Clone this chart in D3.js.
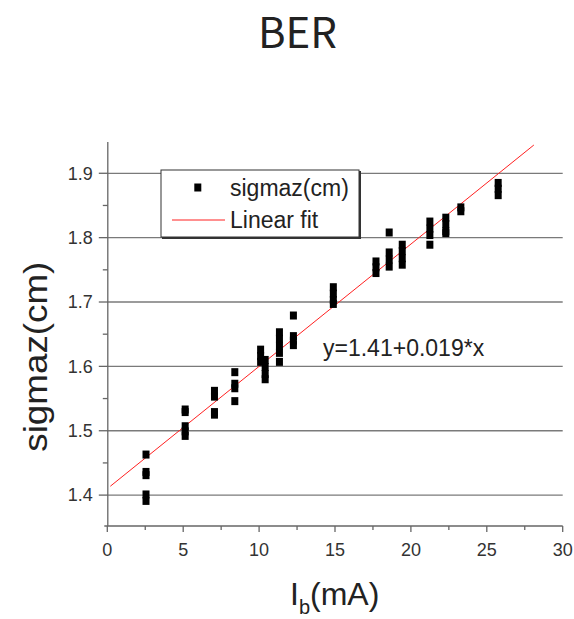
<!DOCTYPE html>
<html>
<head>
<meta charset="utf-8">
<script src="https://cdn.jsdelivr.net/npm/d3@7"></script>
<style>
  body { margin: 0; background: #fff; }
  text { font-family: "Liberation Sans", Arial, sans-serif; fill: #222; }
</style>
</head>
<body>
<script>
// beam current (mA) and bunch length readings
const ib = [
  2.55, 2.55, 2.55, 2.55, 2.55,
  5.13, 5.13, 5.13, 5.13, 5.13,
  7.06, 7.06, 7.06, 7.06,
  8.4, 8.4, 8.4, 8.4,
  10.1, 10.1, 10.1, 10.4, 10.4, 10.4, 10.4,
  11.34, 11.34, 11.34, 11.34, 11.34,
  12.26, 12.26, 12.26, 12.26,
  14.89, 14.89, 14.89, 14.89,
  17.7, 17.7, 17.7,
  18.57, 18.57, 18.57, 18.57,
  19.43, 19.43, 19.43, 19.43,
  21.25, 21.25, 21.25, 21.25,
  22.3, 22.3, 22.3, 22.3,
  23.29, 23.29,
  25.75, 25.75, 25.75
];
const sigmaz = [
  1.463, 1.436, 1.431, 1.401, 1.391,
  1.533, 1.529, 1.507, 1.499, 1.492,
  1.562, 1.553, 1.529, 1.525,
  1.591, 1.573, 1.566, 1.546,
  1.626, 1.616, 1.607, 1.610, 1.599, 1.588, 1.580,
  1.653, 1.643, 1.632, 1.621, 1.607,
  1.679, 1.647, 1.640, 1.633,
  1.723, 1.713, 1.703, 1.697,
  1.763, 1.754, 1.745,
  1.808, 1.777, 1.766, 1.755,
  1.789, 1.779, 1.768, 1.758,
  1.825, 1.814, 1.804, 1.789,
  1.831, 1.821, 1.810, 1.807,
  1.847, 1.841,
  1.885, 1.876, 1.866
];
// linear fit y = a + b*x
const fitA = 1.41, fitB = 0.019;
const fitRange = [0.2, 28.1];
const xTicks = [0, 5, 10, 15, 20, 25, 30];
const yTicks = [1.4, 1.5, 1.6, 1.7, 1.8, 1.9];

const W = 574, H = 619;
const svg = d3.select('body').append('svg')
    .attr('width', W)
    .attr('height', H);

const x = d3.scaleLinear().domain([0, 30]).range([107.3, 562.7]);
const y = d3.scaleLinear().domain([1.352, 1.9486]).range([526, 142]);

// grid lines
svg.append('g')
    .selectAll('line')
    .data(yTicks)
    .enter()
    .append('line')
    .attr('x1', x(0))
    .attr('x2', x(30))
    .attr('y1', d => y(d))
    .attr('y2', d => y(d))
    .attr('stroke', '#7a7a7a')
    .attr('stroke-width', 1.3);

// y axis with minor ticks
const yAxis = svg.append('g').attr('transform', `translate(${x(0) + 0.5},0)`);
yAxis.append('line')
    .attr('y1', y(1.9486)).attr('y2', y(1.352))
    .attr('stroke', '#666').attr('stroke-width', 1.3);
yAxis.selectAll('.major')
    .data(yTicks).enter().append('line')
    .attr('x1', -9).attr('x2', 0)
    .attr('y1', d => y(d)).attr('y2', d => y(d))
    .attr('stroke', '#666').attr('stroke-width', 1.3);
yAxis.selectAll('.minor')
    .data(d3.range(1.45, 1.9, 0.1)).enter().append('line')
    .attr('x1', -5).attr('x2', 0)
    .attr('y1', d => y(d)).attr('y2', d => y(d))
    .attr('stroke', '#666').attr('stroke-width', 1.3);
yAxis.selectAll('text')
    .data(yTicks).enter().append('text')
    .attr('x', -15)
    .attr('y', d => y(d))
    .attr('dy', '0.35em')
    .attr('text-anchor', 'end')
    .style('font-size', '18px')
    .style('fill', '#333')
    .text(d => d.toFixed(1));

// x axis
const xAxis = svg.append('g').attr('transform', `translate(0,${y(1.352)})`);
xAxis.append('line')
    .attr('x1', x(0) - 3).attr('x2', x(30))
    .attr('stroke', '#666').attr('stroke-width', 1.3);
xAxis.selectAll('.major')
    .data(xTicks).enter().append('line')
    .attr('x1', d => x(d)).attr('x2', d => x(d))
    .attr('y1', 0).attr('y2', 6)
    .attr('stroke', '#666').attr('stroke-width', 1.3);
xAxis.selectAll('.minor')
    .data(d3.range(2.5, 30, 5)).enter().append('line')
    .attr('x1', d => x(d)).attr('x2', d => x(d))
    .attr('y1', 0).attr('y2', 4)
    .attr('stroke', '#666').attr('stroke-width', 1.3);
xAxis.selectAll('text')
    .data(xTicks).enter().append('text')
    .attr('x', d => x(d))
    .attr('y', 30)
    .attr('text-anchor', 'middle')
    .style('font-size', '18px')
    .style('fill', '#333')
    .text(d => d);

// fit line
svg.append('line')
    .attr('x1', x(fitRange[0])).attr('y1', y(fitA + fitB * fitRange[0]))
    .attr('x2', x(fitRange[1])).attr('y2', y(fitA + fitB * fitRange[1]))
    .attr('stroke', '#ff2020')
    .attr('stroke-width', 1);

// data squares
svg.append('g')
    .selectAll('rect')
    .data(ib.map((v, i) => [v, sigmaz[i]]))
    .enter()
    .append('rect')
    .attr('x', d => x(d[0]) - 3.5)
    .attr('y', d => y(d[1]) - 4)
    .attr('width', 7)
    .attr('height', 8)
    .attr('fill', '#000');

// legend
const lg = svg.append('g');
lg.append('rect')
    .attr('x', 162).attr('y', 171).attr('width', 199).attr('height', 68)
    .attr('fill', '#333');
lg.append('rect')
    .attr('x', 161).attr('y', 170).attr('width', 198).attr('height', 67)
    .attr('fill', '#fff').attr('stroke', '#333').attr('stroke-width', 1);
lg.append('rect')
    .attr('x', 194.3).attr('y', 183.5).attr('width', 7).attr('height', 8)
    .attr('fill', '#000');
lg.append('text')
    .attr('x', 230).attr('y', 196)
    .style('font-size', '23px')
    .text('sigmaz(cm)');
lg.append('line')
    .attr('x1', 172).attr('x2', 225).attr('y1', 220).attr('y2', 220)
    .attr('stroke', '#ff2020').attr('stroke-width', 1);
lg.append('text')
    .attr('x', 230).attr('y', 227.5)
    .style('font-size', '23px')
    .text('Linear fit');

// fit equation
svg.append('text')
    .attr('x', 323).attr('y', 356)
    .style('font-size', '23px')
    .text(`y=${fitA}+${fitB}*x`);

// title
svg.append('text')
    .attr('x', 297.5).attr('y', 47.7)
    .attr('text-anchor', 'middle')
    .style('font-family', '"Noto Sans CJK SC", "Noto Sans", sans-serif')
    .style('font-size', '42px')
    .text('BER');

// axis titles
svg.append('text')
    .attr('transform', 'translate(46.7,356.7) rotate(-90)')
    .attr('text-anchor', 'middle')
    .attr('textLength', 190)
    .attr('lengthAdjust', 'spacingAndGlyphs')
    .style('font-size', '33px')
    .text('sigmaz(cm)');

const xl = svg.append('text')
    .attr('x', 290)
    .attr('y', 605)
    .style('font-size', '32px');
xl.append('tspan').text('I');
xl.append('tspan').attr('dy', 9).style('font-size', '20px').text('b');
xl.append('tspan').attr('dy', -9).text('(mA)');
</script>
</body>
</html>
